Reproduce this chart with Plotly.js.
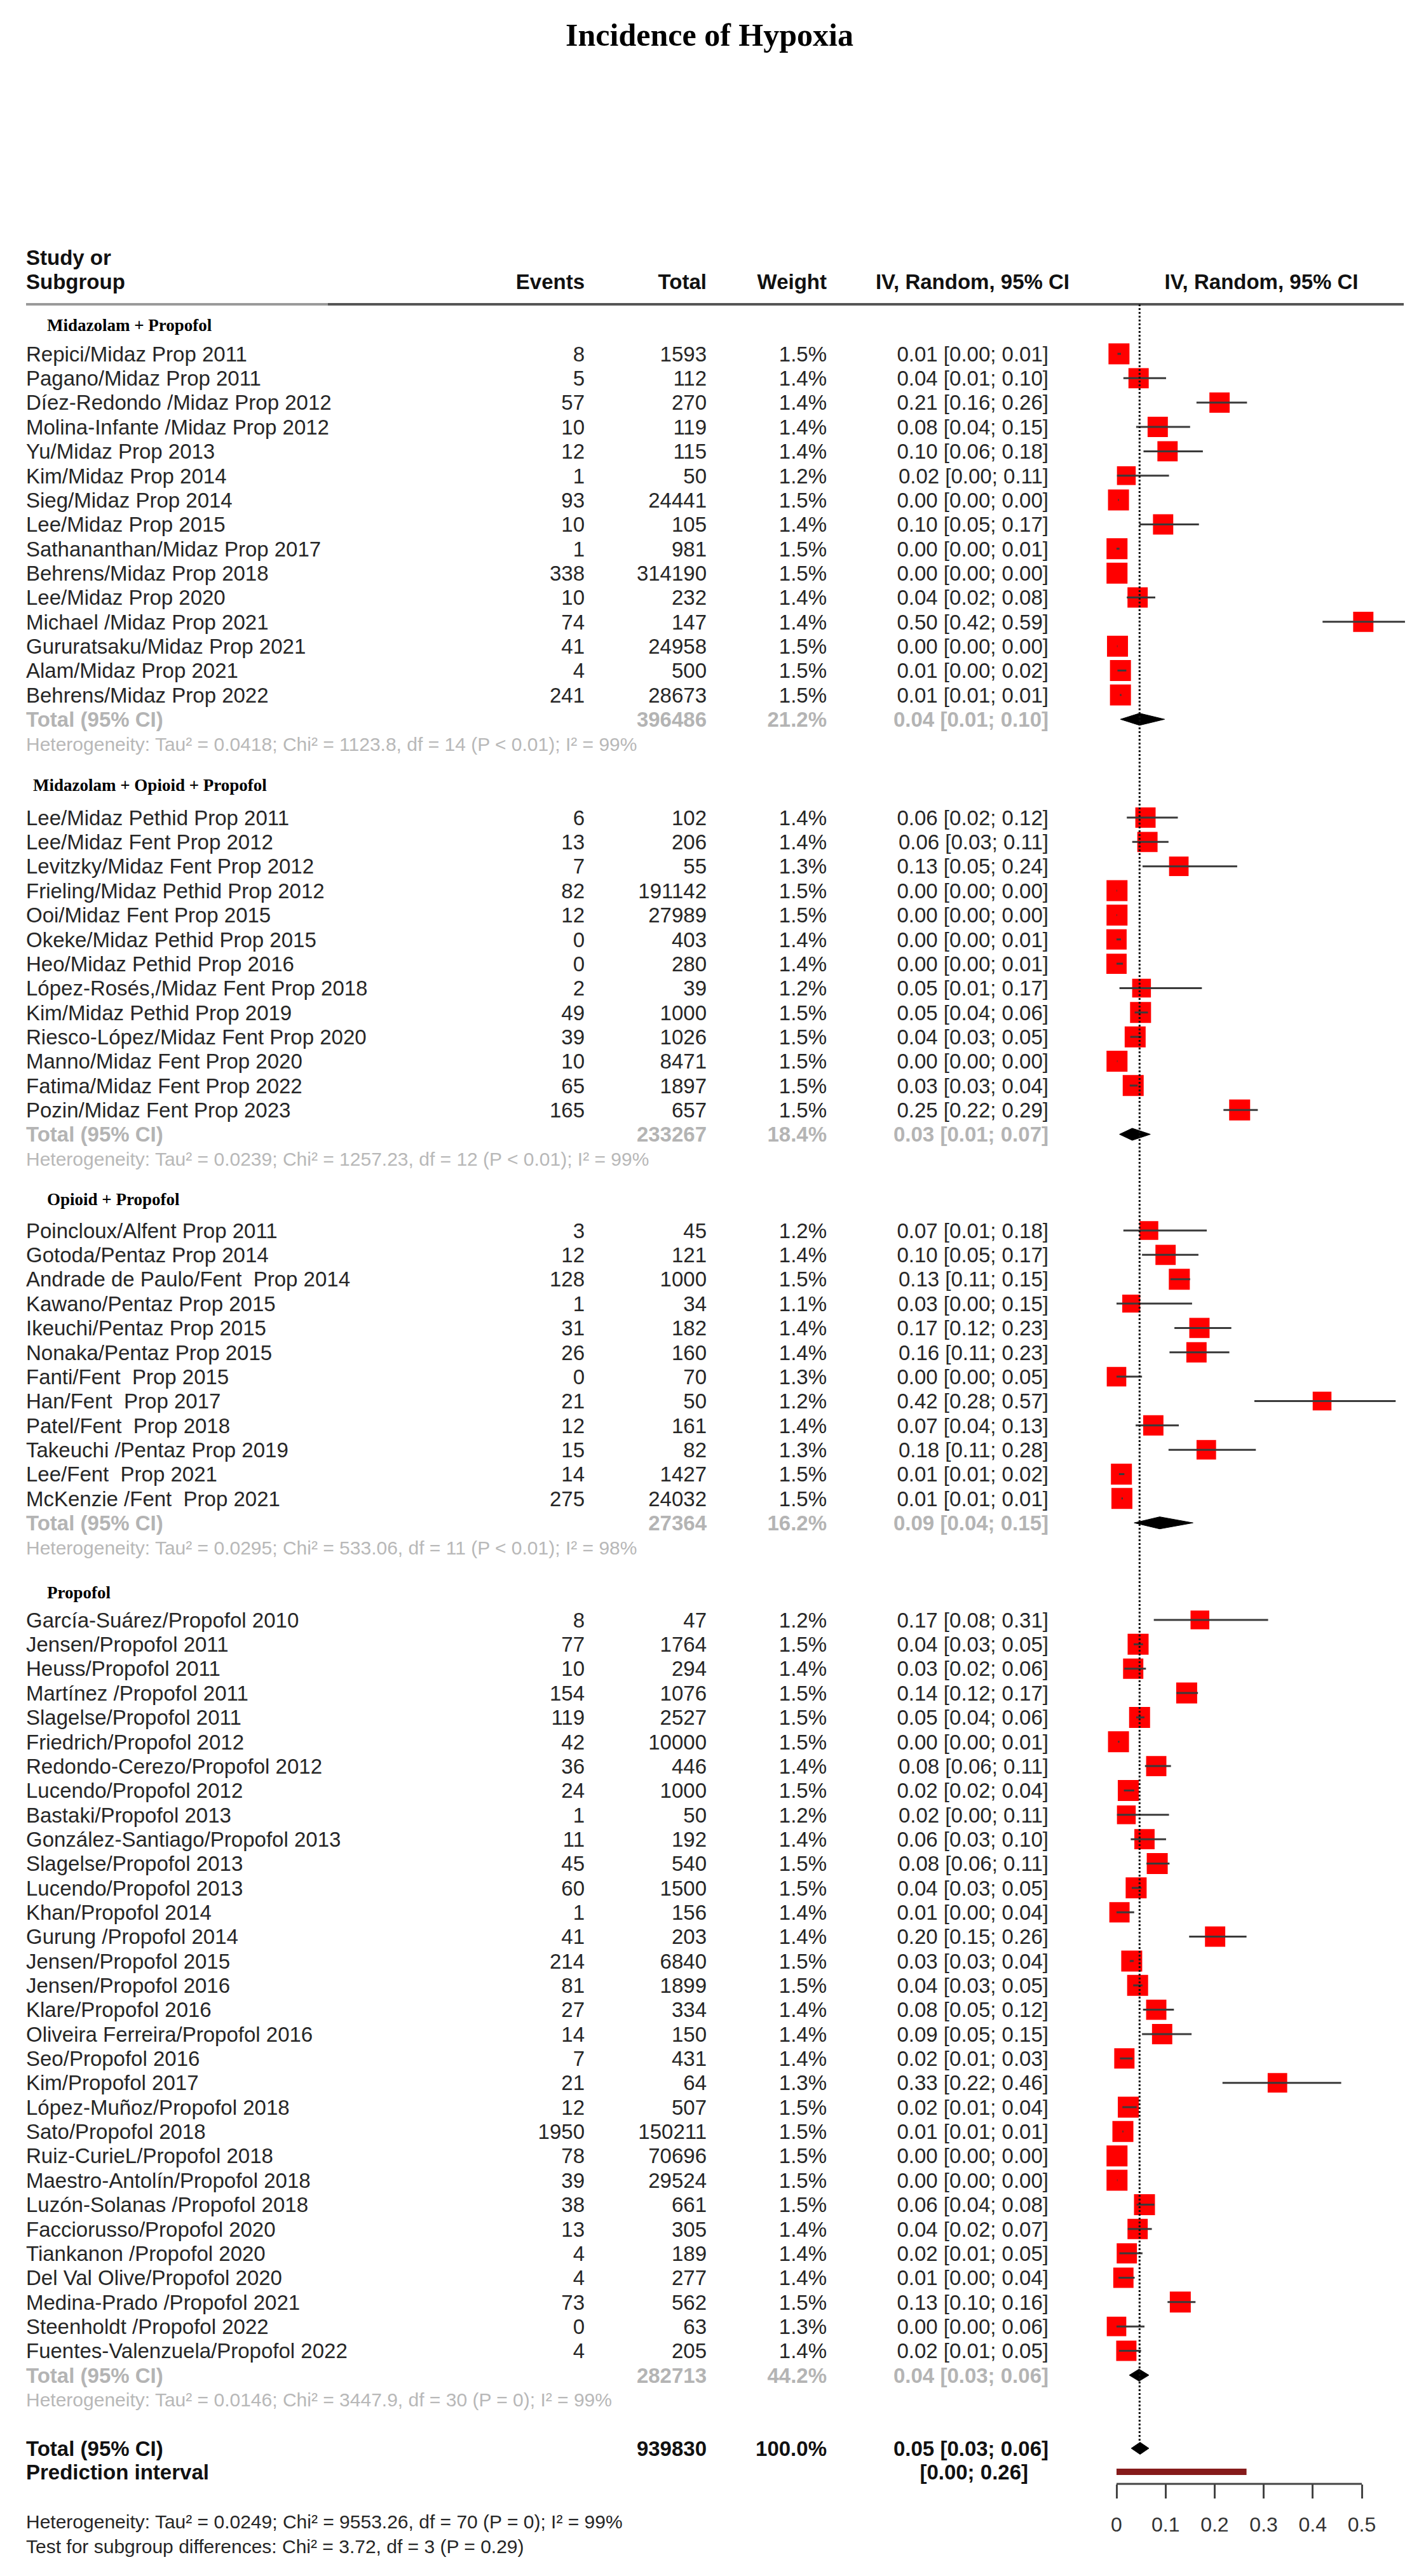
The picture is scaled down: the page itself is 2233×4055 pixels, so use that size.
<!DOCTYPE html>
<html><head><meta charset="utf-8">
<script src="https://cdn.plot.ly/plotly-3.0.1.min.js"></script>
<style>html,body{margin:0;padding:0;background:#fff}#chart{width:2233px;height:4055px}</style>
</head><body><div id="chart"></div>
<script>
// ================= DATA =================
const chartTitle = "Incidence of Hypoxia";
const groupNames = ["Midazolam + Propofol","Midazolam + Opioid + Propofol","Opioid + Propofol","Propofol"];

const g1Study = ["Repici/Midaz Prop 2011","Pagano/Midaz Prop 2011","Díez-Redondo /Midaz Prop 2012","Molina-Infante /Midaz Prop 2012","Yu/Midaz Prop 2013","Kim/Midaz Prop 2014","Sieg/Midaz Prop 2014","Lee/Midaz Prop 2015","Sathananthan/Midaz Prop 2017","Behrens/Midaz Prop 2018","Lee/Midaz Prop 2020","Michael /Midaz Prop 2021","Gururatsaku/Midaz Prop 2021","Alam/Midaz Prop 2021","Behrens/Midaz Prop 2022"];
const g1Events = [8,5,57,10,12,1,93,10,1,338,10,74,41,4,241];
const g1Total = [1593,112,270,119,115,50,24441,105,981,314190,232,147,24958,500,28673];
const g1Weight = [1.5,1.4,1.4,1.4,1.4,1.2,1.5,1.4,1.5,1.5,1.4,1.4,1.5,1.5,1.5];
const g1CI = ["0.01 [0.00; 0.01]","0.04 [0.01; 0.10]","0.21 [0.16; 0.26]","0.08 [0.04; 0.15]","0.10 [0.06; 0.18]","0.02 [0.00; 0.11]","0.00 [0.00; 0.00]","0.10 [0.05; 0.17]","0.00 [0.00; 0.01]","0.00 [0.00; 0.00]","0.04 [0.02; 0.08]","0.50 [0.42; 0.59]","0.00 [0.00; 0.00]","0.01 [0.00; 0.02]","0.01 [0.01; 0.01]"];
const g1Est = [0.005,0.045,0.210,0.084,0.104,0.020,0.004,0.095,0.001,0.001,0.043,0.503,0.002,0.008,0.008];
const g1Lo  = [0.002,0.014,0.163,0.040,0.055,0.001,0.003,0.047,0.000,0.001,0.021,0.420,0.001,0.002,0.007];
const g1Hi  = [0.009,0.101,0.266,0.150,0.176,0.107,0.005,0.168,0.006,0.001,0.079,0.588,0.002,0.020,0.010];

const g2Study = ["Lee/Midaz Pethid Prop 2011","Lee/Midaz Fent Prop 2012","Levitzky/Midaz Fent Prop 2012","Frieling/Midaz Pethid Prop 2012","Ooi/Midaz Fent Prop 2015","Okeke/Midaz Pethid Prop 2015","Heo/Midaz Pethid Prop 2016","López-Rosés,/Midaz Fent Prop 2018","Kim/Midaz Pethid Prop 2019","Riesco-López/Midaz Fent Prop 2020","Manno/Midaz Fent Prop 2020","Fatima/Midaz Fent Prop 2022","Pozin/Midaz Fent Prop 2023"];
const g2Events = [6,13,7,82,12,0,0,2,49,39,10,65,165];
const g2Total = [102,206,55,191142,27989,403,280,39,1000,1026,8471,1897,657];
const g2Weight = [1.4,1.4,1.3,1.5,1.5,1.4,1.4,1.2,1.5,1.5,1.5,1.5,1.5];
const g2CI = ["0.06 [0.02; 0.12]","0.06 [0.03; 0.11]","0.13 [0.05; 0.24]","0.00 [0.00; 0.00]","0.00 [0.00; 0.00]","0.00 [0.00; 0.01]","0.00 [0.00; 0.01]","0.05 [0.01; 0.17]","0.05 [0.04; 0.06]","0.04 [0.03; 0.05]","0.00 [0.00; 0.00]","0.03 [0.03; 0.04]","0.25 [0.22; 0.29]"];
const g2Est = [0.059,0.063,0.127,0.001,0.001,0.000,0.000,0.051,0.049,0.038,0.001,0.034,0.251];
const g2Lo  = [0.021,0.032,0.053,0.000,0.000,0.000,0.000,0.006,0.037,0.028,0.001,0.027,0.218];
const g2Hi  = [0.125,0.106,0.246,0.001,0.001,0.009,0.013,0.174,0.064,0.051,0.002,0.043,0.288];

const g3Study = ["Poincloux/Alfent Prop 2011","Gotoda/Pentaz Prop 2014","Andrade de Paulo/Fent\u00a0 Prop 2014","Kawano/Pentaz Prop 2015","Ikeuchi/Pentaz Prop 2015","Nonaka/Pentaz Prop 2015","Fanti/Fent\u00a0 Prop 2015","Han/Fent\u00a0 Prop 2017","Patel/Fent\u00a0 Prop 2018","Takeuchi /Pentaz Prop 2019","Lee/Fent\u00a0 Prop 2021","McKenzie /Fent\u00a0 Prop 2021"];
const g3Events = [3,12,128,1,31,26,0,21,12,15,14,275];
const g3Total = [45,121,1000,34,182,160,70,50,161,82,1427,24032];
const g3Weight = [1.2,1.4,1.5,1.1,1.4,1.4,1.3,1.2,1.4,1.3,1.5,1.5];
const g3CI = ["0.07 [0.01; 0.18]","0.10 [0.05; 0.17]","0.13 [0.11; 0.15]","0.03 [0.00; 0.15]","0.17 [0.12; 0.23]","0.16 [0.11; 0.23]","0.00 [0.00; 0.05]","0.42 [0.28; 0.57]","0.07 [0.04; 0.13]","0.18 [0.11; 0.28]","0.01 [0.01; 0.02]","0.01 [0.01; 0.01]"];
const g3Est = [0.066,0.100,0.128,0.030,0.169,0.163,0.000,0.419,0.075,0.183,0.010,0.011];
const g3Lo  = [0.014,0.052,0.110,0.000,0.118,0.108,0.000,0.281,0.039,0.106,0.005,0.010];
const g3Hi  = [0.184,0.167,0.150,0.154,0.234,0.230,0.052,0.569,0.127,0.284,0.016,0.013];

const g4Study = ["García-Suárez/Propofol 2010","Jensen/Propofol 2011","Heuss/Propofol 2011","Martínez /Propofol 2011","Slagelse/Propofol 2011","Friedrich/Propofol 2012","Redondo-Cerezo/Propofol 2012","Lucendo/Propofol 2012","Bastaki/Propofol 2013","González-Santiago/Propofol 2013","Slagelse/Propofol 2013","Lucendo/Propofol 2013","Khan/Propofol 2014","Gurung /Propofol 2014","Jensen/Propofol 2015","Jensen/Propofol 2016","Klare/Propofol 2016","Oliveira Ferreira/Propofol 2016","Seo/Propofol 2016","Kim/Propofol 2017","López-Muñoz/Propofol 2018","Sato/Propofol 2018","Ruiz-CurieL/Propofol 2018","Maestro-Antolín/Propofol 2018","Luzón-Solanas /Propofol 2018","Facciorusso/Propofol 2020","Tiankanon /Propofol 2020","Del Val Olive/Propofol 2020","Medina-Prado /Propofol 2021","Steenholdt /Propofol 2022","Fuentes-Valenzuela/Propofol 2022"];
const g4Events = [8,77,10,154,119,42,36,24,1,11,45,60,1,41,214,81,27,14,7,21,12,1950,78,39,38,13,4,4,73,0,4];
const g4Total = [47,1764,294,1076,2527,10000,446,1000,50,192,540,1500,156,203,6840,1899,334,150,431,64,507,150211,70696,29524,661,305,189,277,562,63,205];
const g4Weight = [1.2,1.5,1.4,1.5,1.5,1.5,1.4,1.5,1.2,1.4,1.5,1.5,1.4,1.4,1.5,1.5,1.4,1.4,1.4,1.3,1.5,1.5,1.5,1.5,1.5,1.4,1.4,1.4,1.5,1.3,1.4];
const g4CI = ["0.17 [0.08; 0.31]","0.04 [0.03; 0.05]","0.03 [0.02; 0.06]","0.14 [0.12; 0.17]","0.05 [0.04; 0.06]","0.00 [0.00; 0.01]","0.08 [0.06; 0.11]","0.02 [0.02; 0.04]","0.02 [0.00; 0.11]","0.06 [0.03; 0.10]","0.08 [0.06; 0.11]","0.04 [0.03; 0.05]","0.01 [0.00; 0.04]","0.20 [0.15; 0.26]","0.03 [0.03; 0.04]","0.04 [0.03; 0.05]","0.08 [0.05; 0.12]","0.09 [0.05; 0.15]","0.02 [0.01; 0.03]","0.33 [0.22; 0.46]","0.02 [0.01; 0.04]","0.01 [0.01; 0.01]","0.00 [0.00; 0.00]","0.00 [0.00; 0.00]","0.06 [0.04; 0.08]","0.04 [0.02; 0.07]","0.02 [0.01; 0.05]","0.01 [0.00; 0.04]","0.13 [0.10; 0.16]","0.00 [0.00; 0.06]","0.02 [0.01; 0.05]"];
const g4Est = [0.170,0.044,0.034,0.143,0.047,0.004,0.081,0.024,0.020,0.057,0.083,0.040,0.006,0.201,0.031,0.043,0.081,0.093,0.016,0.328,0.024,0.013,0.001,0.001,0.057,0.043,0.021,0.014,0.130,0.000,0.020];
const g4Lo  = [0.076,0.035,0.016,0.122,0.040,0.003,0.058,0.015,0.001,0.029,0.061,0.031,0.000,0.148,0.027,0.034,0.054,0.052,0.007,0.216,0.012,0.012,0.001,0.001,0.041,0.023,0.006,0.004,0.104,0.000,0.005];
const g4Hi  = [0.309,0.054,0.060,0.166,0.057,0.006,0.111,0.036,0.107,0.101,0.108,0.051,0.036,0.265,0.035,0.053,0.117,0.153,0.033,0.458,0.041,0.014,0.001,0.002,0.077,0.072,0.053,0.037,0.161,0.057,0.050];

const subN = [396486, 233267, 27364, 282713];
const subW = [21.2, 18.4, 16.2, 44.2];
const subCI = ["0.04 [0.01; 0.10]","0.03 [0.01; 0.07]","0.09 [0.04; 0.15]","0.04 [0.03; 0.06]"];
const subEst = [0.047, 0.032, 0.088, 0.046];
const subLo = [0.008, 0.006, 0.036, 0.026];
const subHi = [0.098, 0.069, 0.156, 0.066];
const subHet = [
 "Heterogeneity: Tau² = 0.0418; Chi² = 1123.8, df = 14 (P &lt; 0.01); I² = 99%",
 "Heterogeneity: Tau² = 0.0239; Chi² = 1257.23, df = 12 (P &lt; 0.01); I² = 99%",
 "Heterogeneity: Tau² = 0.0295; Chi² = 533.06, df = 11 (P &lt; 0.01); I² = 98%",
 "Heterogeneity: Tau² = 0.0146; Chi² = 3447.9, df = 30 (P = 0); I² = 99%"
];

const allN = 939830, allW = 100.0, allCI = "0.05 [0.03; 0.06]";
const allEst = 0.048, allLo = 0.030, allHi = 0.066;
const predCI = "[0.00; 0.26]", predLo = 0.000, predHi = 0.265;
const pooledLine = 0.047;
const allHet = "Heterogeneity: Tau² = 0.0249; Chi² = 9553.26, df = 70 (P = 0); I² = 99%";
const subTest = "Test for subgroup differences: Chi² = 3.72, df = 3 (P = 0.29)";

const axisTicks = [0, 0.1, 0.2, 0.3, 0.4, 0.5];
const axisTickText = ["0", "0.1", "0.2", "0.3", "0.4", "0.5"];

// ================= LAYOUT CONSTANTS =================
const W = 2233, H = 4055;
const groups = [
 {study:g1Study, ev:g1Events, n:g1Total, w:g1Weight, ci:g1CI, est:g1Est, lo:g1Lo, hi:g1Hi},
 {study:g2Study, ev:g2Events, n:g2Total, w:g2Weight, ci:g2CI, est:g2Est, lo:g2Lo, hi:g2Hi},
 {study:g3Study, ev:g3Events, n:g3Total, w:g3Weight, ci:g3CI, est:g3Est, lo:g3Lo, hi:g3Hi},
 {study:g4Study, ev:g4Events, n:g4Total, w:g4Weight, ci:g4CI, est:g4Est, lo:g4Lo, hi:g4Hi}
];
const labelY = [511, 1235, 1887, 2506];
const labelX = [74, 52, 74, 74];
const firstY = [557, 1287, 1937, 2550];
const rowH = 38.35;
const yTotAll = 3854, yPred = 3891, yAxis = 3910, yHetAll = 3969, yTest = 4008;
const colStudy = 41, colEv = 920, colN = 1112, colW = 1301, colCI = 1650;
const tOff = 3.5;
const px0 = 1757, ppu = 772, xr = [-0.04, 0.6];
const dom = [(px0 + xr[0]*ppu)/W, (px0 + xr[1]*ppu)/W];

const SANS = "Liberation Sans, Arial, sans-serif";
const SERIF = "Liberation Serif, Times New Roman, serif";
const fStudy = {family:SANS, size:33, color:"#262626"};
const fSubTot = {family:SANS, size:33, color:"#b4b4b4", weight:"bold"};
const fHet = {family:SANS, size:30, color:"#b8b8b8"};
const fBold = {family:SANS, size:33, color:"#111", weight:"bold"};
const fBottom = {family:SANS, size:30, color:"#262626"};
const fLabel = {family:SERIF, size:27, color:"#000", weight:"bold"};

const traces = [];
function txt(xs, ys, texts, pos, font) {
  traces.push({type:"scatter", mode:"text", x:xs, y:ys.map(v=>v+tOff), text:texts,
    textposition:pos, textfont:font, xaxis:"x2", yaxis:"y2", hoverinfo:"skip",
    showlegend:false, cliponaxis:false});
}

// Headers
txt([colStudy, colStudy], [405, 443], ["Study or", "Subgroup"], "middle right", fBold);
txt([colEv, colN, colW, 1683], [443,443,443,443], ["Events","Total","Weight","IV, Random, 95% CI"], "middle left", fBold);
txt([1985], [443], ["IV, Random, 95% CI"], "middle center", fBold);

// Forest collections
const mX = [], mY = [], mS = [];
const ciX = [], ciY = [];

groups.forEach((g, gi) => {
  txt([labelX[gi]], [labelY[gi]], [groupNames[gi]], "middle right", fLabel);
  const ys = g.study.map((_, i) => firstY[gi] + i*rowH);
  txt(ys.map(()=>colStudy), ys, g.study, "middle right", fStudy);
  const rx = [], ry = [], rt = [];
  ys.forEach((y, i) => {
    rx.push(colEv, colN, colW, colCI);
    ry.push(y, y, y, y);
    rt.push(String(g.ev[i]), String(g.n[i]), g.w[i].toFixed(1) + "%", g.ci[i]);
    mX.push(g.est[i]); mY.push(y); mS.push(33*Math.sqrt(g.w[i]/1.5));
    ciX.push(g.lo[i], g.hi[i], null); ciY.push(y, y, null);
  });
  txt(rx, ry, rt, "middle left", fStudy);
  const yT = ys[ys.length-1] + rowH, yH = yT + rowH;
  txt([colStudy], [yT], ["Total (95% CI)"], "middle right", fSubTot);
  txt([colN, colW, colCI], [yT, yT, yT], [String(subN[gi]), subW[gi].toFixed(1)+"%", subCI[gi]], "middle left", fSubTot);
  txt([colStudy], [yH], [subHet[gi]], "middle right", fHet);
  traces.push({type:"scatter", mode:"lines", x:[subLo[gi], subEst[gi], subHi[gi], subEst[gi], subLo[gi]],
    y:[yT, yT-9.5, yT, yT+9.5, yT], fill:"toself", fillcolor:"#000", line:{color:"#000", width:1},
    xaxis:"x", yaxis:"y", hoverinfo:"skip", showlegend:false});
});

// Overall
txt([colStudy, colStudy], [yTotAll, yPred], ["Total (95% CI)", "Prediction interval"], "middle right", fBold);
txt([colN, colW, colCI, 1618], [yTotAll, yTotAll, yTotAll, yPred], [String(allN), allW.toFixed(1)+"%", allCI, predCI], "middle left", fBold);
txt([colStudy, colStudy], [yHetAll, yTest], [allHet, subTest], "middle right", fBottom);

// study squares
traces.push({type:"scatter", mode:"markers", x:mX, y:mY, xaxis:"x", yaxis:"y",
  marker:{symbol:"square", size:mS, color:"#ff0000", opacity:1, line:{width:0}}, hoverinfo:"skip", showlegend:false, cliponaxis:false});
// CI lines
traces.push({type:"scatter", mode:"lines", x:ciX, y:ciY, xaxis:"x", yaxis:"y",
  line:{color:"#3a3a3a", width:3}, hoverinfo:"skip", showlegend:false, connectgaps:false});
// overall diamond
traces.push({type:"scatter", mode:"lines", x:[allLo, allEst, allHi, allEst, allLo],
  y:[yTotAll, yTotAll-9.5, yTotAll, yTotAll+9.5, yTotAll], fill:"toself", fillcolor:"#000",
  line:{color:"#000", width:1}, xaxis:"x", yaxis:"y", hoverinfo:"skip", showlegend:false});
// prediction interval
traces.push({type:"scatter", mode:"lines", x:[predLo, predHi], y:[yPred, yPred], xaxis:"x", yaxis:"y",
  line:{color:"#861b1b", width:10}, hoverinfo:"skip", showlegend:false});

const shapes = [
  {type:"line", xref:"x2", yref:"y2", x0:41, x1:516, y0:479, y1:479, line:{color:"#9a9a9a", width:4}},
  {type:"line", xref:"x2", yref:"y2", x0:516, x1:2209, y0:479, y1:479, line:{color:"#555", width:4}},
  {type:"line", xref:"x", yref:"y", x0:pooledLine, x1:pooledLine, y0:479, y1:yTotAll-9, line:{color:"#111", width:3, dash:"dot"}},
  {type:"line", xref:"x", yref:"y", x0:axisTicks[0], x1:axisTicks[axisTicks.length-1], y0:yAxis, y1:yAxis, line:{color:"#444", width:3}}
];

const layout = {
  width:W, height:H, margin:{l:0, r:0, t:0, b:0},
  paper_bgcolor:"#fff", plot_bgcolor:"rgba(0,0,0,0)", showlegend:false,
  title:{text:chartTitle, font:{family:SERIF, size:50, color:"#000", weight:"bold"},
    x:0.5, xanchor:"center", y:1 - 54/H, yanchor:"middle", yref:"container"},
  xaxis:{domain:dom, range:xr, anchor:"free", position:(H - yAxis)/H, showline:false, zeroline:false,
    showgrid:false, tickmode:"array", tickvals:axisTicks, ticktext:axisTickText, ticks:"outside",
    ticklen:22, tickwidth:3, tickcolor:"#444", tickfont:{family:SANS, size:32, color:"#333"},
    ticklabelstandoff:14, fixedrange:true},
  yaxis:{domain:[0,1], range:[H,0], visible:false, fixedrange:true},
  xaxis2:{domain:[0,1], range:[0,W], visible:false, anchor:"y2", fixedrange:true},
  yaxis2:{domain:[0,1], range:[H,0], visible:false, anchor:"x2", fixedrange:true},
  shapes:shapes
};

Plotly.newPlot("chart", traces, layout, {staticPlot:true, displayModeBar:false});
</script>
</body></html>
